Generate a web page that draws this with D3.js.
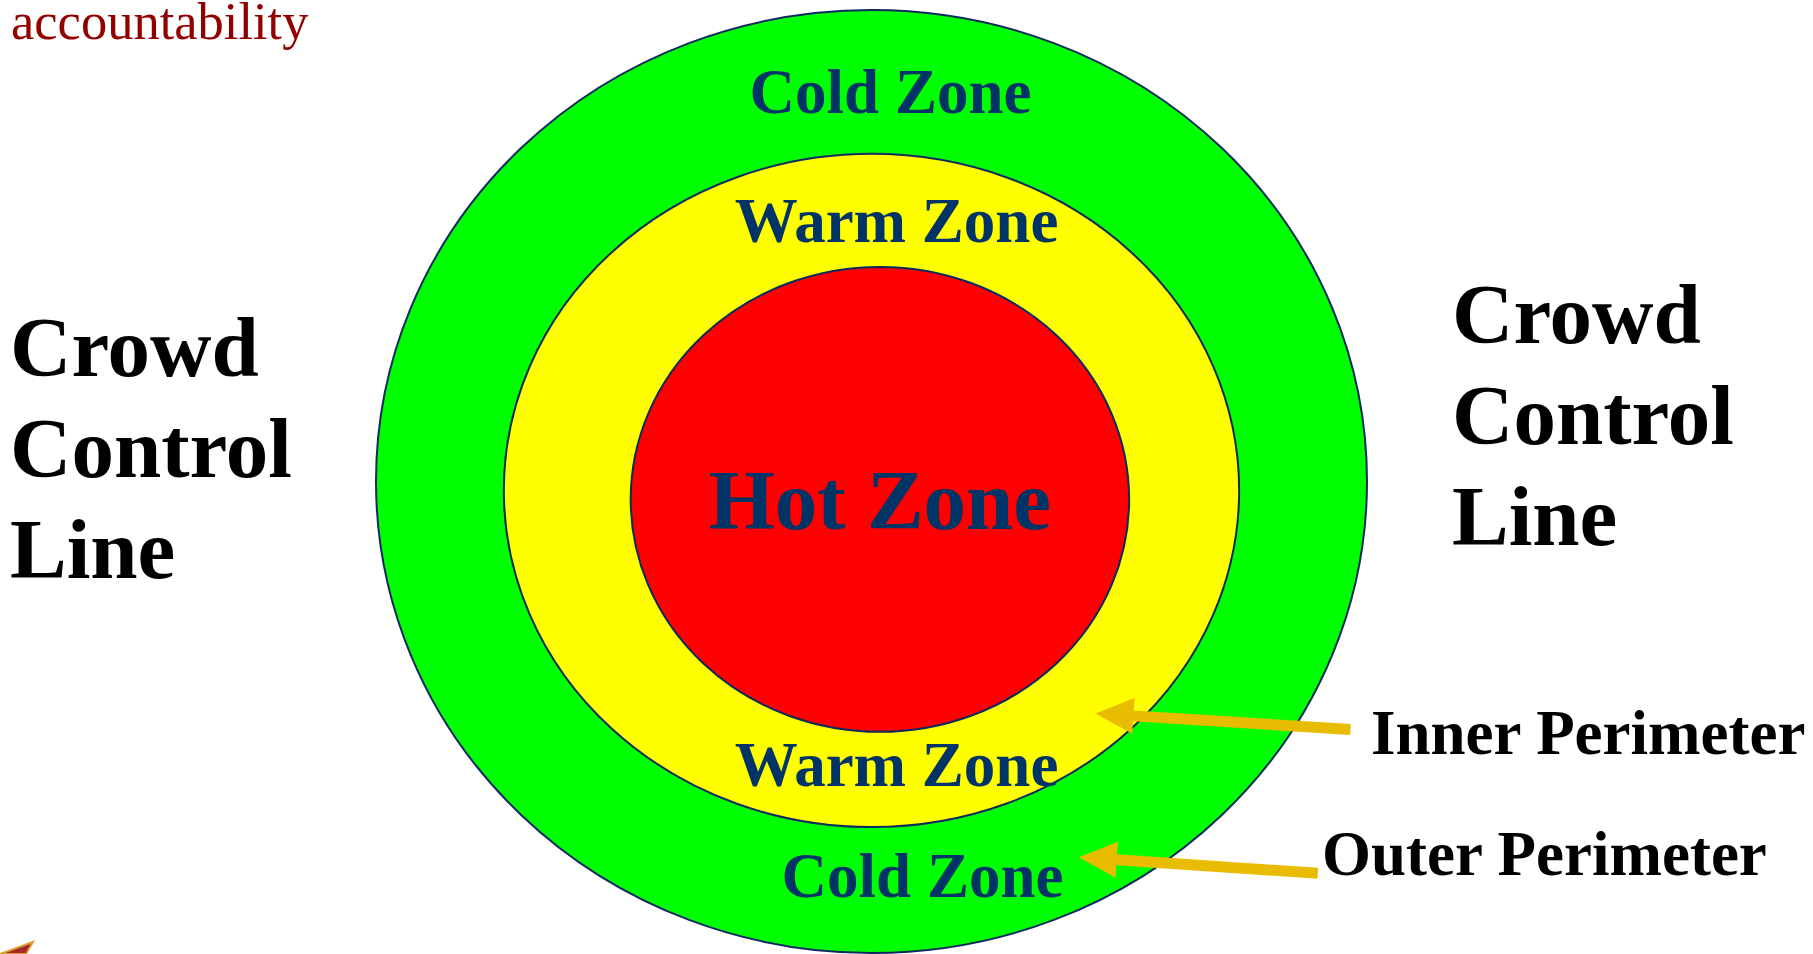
<!DOCTYPE html>
<html>
<head>
<meta charset="utf-8">
<script src="https://cdn.jsdelivr.net/npm/d3@7"></script>
<style>
  body { margin: 0; background: #fff; }
  text { font-family: "Liberation Serif", "Times New Roman", serif; }
</style>
</head>
<body>
<div id="chart"></div>
<script>
// zone rings, in units of the outer ring (centre of outer ring = 0,0)
var zoneNames = ["Cold Zone", "Warm Zone", "Hot Zone"];
var zoneCx = [0, 0, 0.017];
var zoneCy = [0, 0.019, 0.038];
var zoneRx = [1, 0.742, 0.503];
var zoneRy = [1, 0.714, 0.493];

var sideWords = ["Crowd", "Control", "Line"];
var perimeterNames = ["Inner Perimeter", "Outer Perimeter"];
var perimeterRing = [1, 0];      // which ring the arrow points into
var perimeterAngle = [47.4, 62.3]; // degrees below the horizontal
var headerText = "accountability";

var width = 1813, height = 954;

var svg = d3.select("#chart")
	.append("svg")
	.attr("width", width)
	.attr("height", height);

var x = d3.scaleLinear().domain([-1, 1]).range([376, 1367]);
var y = d3.scaleLinear().domain([-1, 1]).range([10, 953]);
var sx = function(v) { return x(v) - x(0); };
var sy = function(v) { return y(v) - y(0); };

var fill = d3.scaleOrdinal().domain(zoneNames).range(["#00ff00", "#ffff00", "#ff0000"]);

svg.selectAll("ellipse.zone")
	.data(zoneNames)
	.enter()
	.append("ellipse")
	.attr("class", "zone")
	.attr("cx", function(d, i) { return x(zoneCx[i]); })
	.attr("cy", function(d, i) { return y(zoneCy[i]); })
	.attr("rx", function(d, i) { return sx(zoneRx[i]); })
	.attr("ry", function(d, i) { return sy(zoneRy[i]); })
	.attr("fill", function(d) { return fill(d); })
	.attr("stroke", "#0a2a5e")
	.attr("stroke-width", 2);

// edge helpers
var edgeTop = function(i) { return y(zoneCy[i] - zoneRy[i]); };
var edgeBot = function(i) { return y(zoneCy[i] + zoneRy[i]); };

// zone labels: [name index, x, baseline, size]
var navy = "#003366";
var zoneText = [
	[0, x(zoneCx[0]) + 19, edgeTop(0) + 103, 63],
	[1, x(zoneCx[1]) + 25, edgeTop(1) + 88, 63],
	[2, x(zoneCx[2]), y(zoneCy[2]) + 30, 85],
	[1, x(zoneCx[1]) + 25, edgeBot(2) + 54, 63],
	[0, x(zoneCx[0]) + 51, edgeBot(1) + 70, 63]
];

// arrows
var arrowColor = "#e8bc00";
perimeterNames.forEach(function(name, i) {
	var r = perimeterRing[i];
	var a = perimeterAngle[i] * Math.PI / 180;
	var tx = x(zoneCx[r]) + 0.9 * sx(zoneRx[r]) * Math.cos(a);
	var ty = y(zoneCy[r]) + 0.9 * sy(zoneRy[r]) * Math.sin(a);
	var ex = tx + (i == 0 ? 255 : 239);
	var ey = ty + 16;
	var ang = Math.atan2(ey - ty, ex - tx);
	var ux = Math.cos(ang), uy = Math.sin(ang);
	var px = -uy, py = ux;
	var hl = 38, hw = 18, sw = 5.5;
	var bx = tx + ux * hl, by = ty + uy * hl;
	var pts = [
		[tx, ty],
		[bx + px * hw, by + py * hw],
		[bx + px * sw, by + py * sw],
		[ex + px * sw, ey + py * sw],
		[ex - px * sw, ey - py * sw],
		[bx - px * sw, by - py * sw],
		[bx - px * hw, by - py * hw]
	];
	svg.append("path")
		.attr("d", d3.line()(pts) + "Z")
		.attr("fill", arrowColor);

	svg.append("text")
		.attr("x", i == 0 ? 1371 : 1322)
		.attr("y", i == 0 ? 754 : 875)
		.attr("font-size", 63)
		.attr("font-weight", "bold")
		.attr("fill", "#000")
		.text(name);
});

svg.selectAll("text.zonelabel")
	.data(zoneText)
	.enter()
	.append("text")
	.attr("class", "zonelabel")
	.attr("x", function(d) { return d[1]; })
	.attr("y", function(d) { return d[2]; })
	.attr("text-anchor", "middle")
	.attr("font-size", function(d) { return d[3]; })
	.attr("font-weight", "bold")
	.attr("fill", navy)
	.text(function(d) { return zoneNames[d[0]]; });

// crowd control line, both sides
[[10, 376], [1452, 343]].forEach(function(p) {
	svg.selectAll(null)
		.data(sideWords)
		.enter()
		.append("text")
		.attr("x", p[0])
		.attr("y", function(d, i) { return p[1] + i * 101; })
		.attr("font-size", 85)
		.attr("font-weight", "bold")
		.attr("fill", "#000")
		.text(function(d) { return d; });
});

svg.append("text")
	.attr("x", 11)
	.attr("y", 39)
	.attr("font-size", 52.5)
	.attr("fill", "#920000")
	.text(headerText);

// corner of a cut-off graphic
svg.append("path")
	.attr("d", "M0,954L33,942L26,954Z")
	.attr("fill", "#a3262a")
	.attr("stroke", "#d9a030")
	.attr("stroke-width", 2);
</script>
</body>
</html>
